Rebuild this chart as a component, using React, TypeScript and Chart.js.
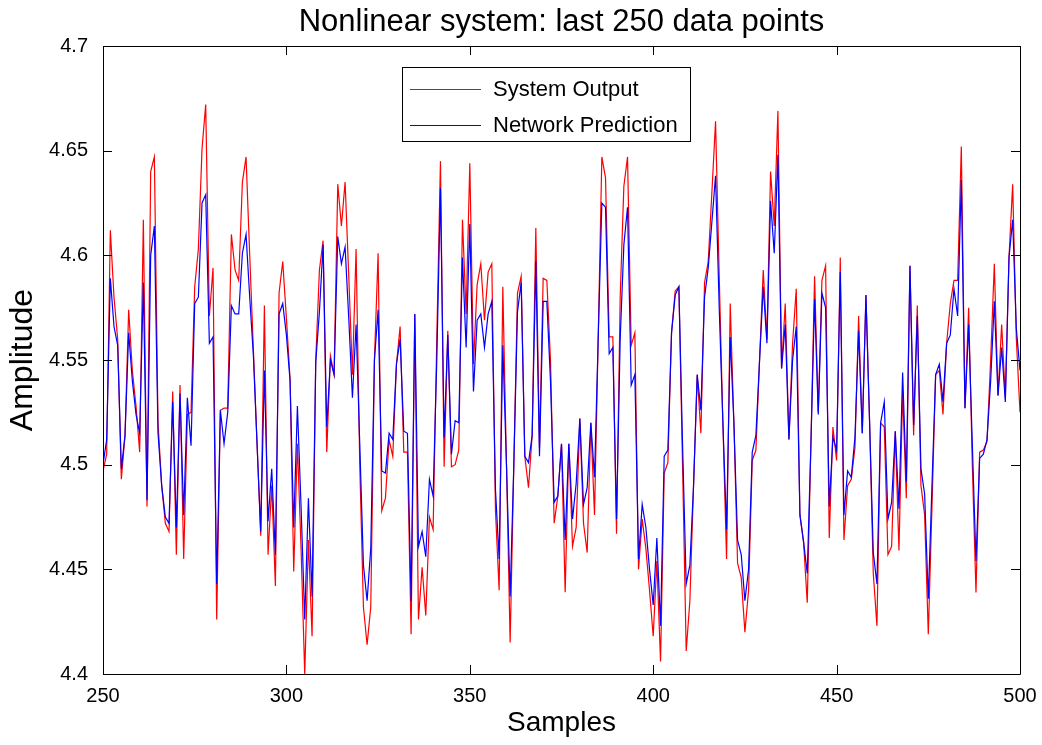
import React, { useEffect, useRef } from "react";
import { Chart, registerables } from "chart.js";

Chart.register(...registerables);

// ---- data ----
const SAMPLE_START = 250;

const systemOutput = [
  4.497, 4.505, 4.612, 4.58, 4.56, 4.493, 4.514, 4.574, 4.545, 4.528,
  4.506, 4.617, 4.48, 4.64, 4.647, 4.52, 4.49, 4.472, 4.468, 4.535,
  4.457, 4.538, 4.455, 4.524, 4.525, 4.585, 4.603, 4.651, 4.672, 4.571,
  4.594, 4.426, 4.526, 4.527, 4.527, 4.61, 4.593, 4.588, 4.635, 4.647,
  4.6, 4.555, 4.51, 4.466, 4.576, 4.457, 4.49, 4.442, 4.582, 4.597,
  4.57, 4.541, 4.449, 4.51, 4.46, 4.4, 4.464, 4.418, 4.55, 4.593,
  4.607, 4.506, 4.552, 4.543, 4.634, 4.614, 4.635, 4.59, 4.543, 4.603,
  4.5, 4.432, 4.414, 4.432, 4.55, 4.601, 4.478, 4.484, 4.512, 4.504,
  4.548, 4.566, 4.506, 4.506, 4.419, 4.572, 4.426, 4.451, 4.428, 4.475,
  4.469, 4.56, 4.645, 4.499, 4.564, 4.499, 4.5, 4.507, 4.617, 4.572,
  4.644, 4.548, 4.586, 4.596, 4.569, 4.592, 4.596, 4.478, 4.44, 4.585,
  4.5, 4.415, 4.5, 4.582, 4.59, 4.504, 4.489, 4.514, 4.613, 4.508,
  4.589, 4.588, 4.55, 4.472, 4.485, 4.51, 4.439, 4.51, 4.461, 4.47,
  4.522, 4.472, 4.458, 4.52, 4.476, 4.56, 4.647, 4.637, 4.561, 4.561,
  4.467, 4.58, 4.633, 4.647, 4.557, 4.563, 4.45, 4.474, 4.46, 4.44,
  4.418, 4.454, 4.406, 4.496, 4.501, 4.563, 4.583, 4.585, 4.5, 4.411,
  4.435, 4.49, 4.543, 4.515, 4.587, 4.597, 4.63, 4.664, 4.59, 4.52,
  4.455, 4.577, 4.52, 4.453, 4.446, 4.42, 4.44, 4.502, 4.507, 4.55,
  4.593, 4.56, 4.64, 4.614, 4.669, 4.546, 4.577, 4.512, 4.558, 4.584,
  4.476, 4.463, 4.434, 4.51, 4.59, 4.525, 4.588, 4.595, 4.465, 4.518,
  4.502, 4.599, 4.464, 4.49, 4.493, 4.508, 4.571, 4.515, 4.581, 4.52,
  4.448, 4.423, 4.52, 4.518, 4.457, 4.461, 4.516, 4.459, 4.535, 4.484,
  4.595, 4.514, 4.576, 4.49, 4.476, 4.419, 4.48, 4.543, 4.545, 4.524,
  4.558, 4.577, 4.588, 4.588, 4.652, 4.527, 4.575, 4.5, 4.439, 4.506,
  4.507, 4.511, 4.55, 4.596, 4.533, 4.567, 4.532, 4.599, 4.634, 4.56,
  4.525,
];

const networkPrediction = [
  4.5, 4.512, 4.589, 4.566, 4.557, 4.498, 4.514, 4.563, 4.54, 4.524,
  4.515, 4.587, 4.483, 4.6, 4.614, 4.515, 4.49, 4.475, 4.472, 4.53,
  4.47, 4.534, 4.476, 4.532, 4.509, 4.577, 4.58, 4.625, 4.629, 4.558,
  4.561, 4.443, 4.526, 4.51, 4.525, 4.576, 4.572, 4.572, 4.601, 4.61,
  4.58, 4.552, 4.51, 4.468, 4.545, 4.473, 4.498, 4.457, 4.572, 4.577,
  4.562, 4.54, 4.47, 4.528, 4.48, 4.426, 4.484, 4.437, 4.549, 4.573,
  4.605, 4.518, 4.55, 4.543, 4.609, 4.596, 4.604, 4.57, 4.532, 4.567,
  4.51, 4.452, 4.435, 4.46, 4.55, 4.574, 4.497, 4.496, 4.515, 4.512,
  4.548, 4.56, 4.516, 4.515, 4.435, 4.572, 4.461, 4.468, 4.456, 4.493,
  4.485, 4.55, 4.632, 4.513, 4.562, 4.505, 4.521, 4.52, 4.599, 4.556,
  4.615, 4.535, 4.569, 4.572, 4.556, 4.572, 4.578, 4.488, 4.455, 4.557,
  4.5, 4.437, 4.5, 4.573, 4.587, 4.504, 4.501, 4.514, 4.597, 4.504,
  4.578, 4.578, 4.54, 4.482, 4.485, 4.51, 4.464, 4.51, 4.474, 4.491,
  4.522, 4.481, 4.489, 4.52, 4.494, 4.56, 4.625, 4.623, 4.553, 4.556,
  4.474, 4.56, 4.605, 4.623, 4.538, 4.543, 4.455, 4.481, 4.47, 4.45,
  4.433, 4.465, 4.423, 4.504, 4.507, 4.563, 4.581, 4.585, 4.51, 4.443,
  4.452, 4.49, 4.543, 4.526, 4.58, 4.594, 4.616, 4.638, 4.575, 4.52,
  4.469, 4.561, 4.52, 4.464, 4.457, 4.435, 4.45, 4.506, 4.514, 4.55,
  4.585, 4.558, 4.626, 4.601, 4.648, 4.546, 4.567, 4.512, 4.55, 4.566,
  4.476, 4.463, 4.448, 4.51, 4.579, 4.524, 4.582, 4.575, 4.48, 4.513,
  4.507, 4.592, 4.476, 4.497, 4.494, 4.513, 4.564, 4.515, 4.581, 4.52,
  4.458, 4.443, 4.52, 4.53, 4.474, 4.482, 4.516, 4.479, 4.544, 4.492,
  4.595, 4.519, 4.571, 4.498, 4.486, 4.436, 4.49, 4.543, 4.548, 4.53,
  4.558, 4.562, 4.584, 4.571, 4.636, 4.527, 4.567, 4.51, 4.454, 4.503,
  4.505, 4.512, 4.54, 4.578, 4.533, 4.556, 4.53, 4.599, 4.617, 4.565,
  4.545,
];

const xTickValues = [250, 300, 350, 400, 450, 500];
const yTickValues = [4.4, 4.45, 4.5, 4.55, 4.6, 4.65, 4.7];

const TITLE = "Nonlinear system: last 250 data points";
const X_LABEL = "Samples";
const Y_LABEL = "Amplitude";
const SERIES_NAMES = ["System Output", "Network Prediction"];

const FONT = "'Liberation Sans', Arial, sans-serif";

const framePlugin = {
  id: "matlabFrame",
  afterDatasetsDraw(chart: any) {
    const { ctx, chartArea, scales } = chart;
    const { left, right, top, bottom } = chartArea;
    const x = scales.x;
    const y = scales.y;
    const TL = 9;
    ctx.save();
    ctx.strokeStyle = "#000";
    ctx.lineWidth = 1;
    ctx.beginPath();
    ctx.rect(Math.round(left) + 0.5, Math.round(top) + 0.5, Math.round(right - left), Math.round(bottom - top));
    xTickValues.forEach((v) => {
      const px = Math.round(x.getPixelForValue(v)) + 0.5;
      ctx.moveTo(px, bottom);
      ctx.lineTo(px, bottom - TL);
      ctx.moveTo(px, top);
      ctx.lineTo(px, top + TL);
    });
    yTickValues.forEach((v) => {
      const py = Math.round(y.getPixelForValue(v)) + 0.5;
      ctx.moveTo(left, py);
      ctx.lineTo(left + TL, py);
      ctx.moveTo(right, py);
      ctx.lineTo(right - TL, py);
    });
    ctx.stroke();
    ctx.restore();
  },
  afterDraw(chart: any) {
    const { ctx, chartArea } = chart;
    ctx.save();
    // title
    ctx.fillStyle = "#000";
    ctx.font = `31px ${FONT}`;
    ctx.textAlign = "center";
    ctx.textBaseline = "alphabetic";
    ctx.fillText(TITLE, (chartArea.left + chartArea.right) / 2, 31);

    // legend
    const bx = 402.5, by = 67.5, bw = 288, bh = 74;
    ctx.fillStyle = "#fff";
    ctx.fillRect(bx, by, bw, bh);
    ctx.strokeStyle = "#000";
    ctx.lineWidth = 1;
    ctx.strokeRect(bx, by, bw, bh);
    const rows = [89, 125];
    chart.data.datasets.forEach((ds: any, i: number) => {
      const ry = rows[i] + 0.5;
      ctx.strokeStyle = ds.borderColor;
      ctx.lineWidth = 1;
      ctx.beginPath();
      ctx.moveTo(410, ry);
      ctx.lineTo(481, ry);
      ctx.stroke();
      ctx.fillStyle = "#000";
      ctx.font = `22px ${FONT}`;
      ctx.textAlign = "left";
      ctx.textBaseline = "middle";
      ctx.fillText(ds.label, 493, ry);
    });
    ctx.restore();
  },
};

export default function App() {
  const canvasRef = useRef<HTMLCanvasElement | null>(null);

  useEffect(() => {
    const canvas = canvasRef.current;
    if (!canvas) return;
    const toPoints = (arr: number[]) => arr.map((v, i) => ({ x: SAMPLE_START + i, y: v }));
    const chart = new Chart(canvas, {
      type: "line",
      data: {
        datasets: [
          {
            label: SERIES_NAMES[0],
            data: toPoints(systemOutput),
            borderColor: "#ff0000",
            borderWidth: 1.2,
            pointRadius: 0,
            tension: 0,
            order: 2,
          },
          {
            label: SERIES_NAMES[1],
            data: toPoints(networkPrediction),
            borderColor: "#0000ff",
            borderWidth: 1.2,
            pointRadius: 0,
            tension: 0,
            order: 1,
          },
        ],
      },
      options: {
        animation: false,
        responsive: false,
        maintainAspectRatio: false,
        layout: { padding: { left: 0, right: 22, top: 46, bottom: 0 } },
        plugins: {
          legend: { display: false },
          title: { display: false },
          tooltip: { enabled: false },
        },
        scales: {
          x: {
            type: "linear",
            min: 250,
            max: 500,
            afterBuildTicks: (scale: any) => {
              scale.ticks = xTickValues.map((v) => ({ value: v }));
            },
            afterFit: (scale: any) => {
              scale.height = 71;
              scale.paddingLeft = 0;
              scale.paddingRight = 0;
            },
            grid: { display: false, drawTicks: false },
            border: { display: false },
            ticks: {
              color: "#000",
              font: { family: FONT, size: 20 },
              padding: 10,
              maxRotation: 0,
              autoSkip: false,
            },
            title: {
              display: true,
              text: X_LABEL,
              color: "#000",
              font: { family: FONT, size: 28 },
              padding: { top: 0, bottom: 5 },
            },
          },
          y: {
            type: "linear",
            min: 4.4,
            max: 4.7,
            afterBuildTicks: (scale: any) => {
              scale.ticks = yTickValues.map((v) => ({ value: v }));
            },
            afterFit: (scale: any) => {
              scale.width = 103;
              scale.paddingTop = 0;
              scale.paddingBottom = 0;
            },
            grid: { display: false, drawTicks: false },
            border: { display: false },
            ticks: {
              color: "#000",
              font: { family: FONT, size: 20 },
              padding: 15,
              autoSkip: false,
              callback: (v: any) => String(Number(Number(v).toFixed(2))),
            },
            title: {
              display: true,
              text: Y_LABEL,
              color: "#000",
              font: { family: FONT, size: 32 },
              padding: { top: 4, bottom: 0 },
            },
          },
        },
      },
      plugins: [framePlugin],
    });
    return () => chart.destroy();
  }, []);

  return (
    <div style={{ position: "absolute", left: 0, top: 0, width: 1042, height: 745, background: "#fff" }}>
      <canvas ref={canvasRef} width={1042} height={745} style={{ display: "block" }} />
    </div>
  );
}
